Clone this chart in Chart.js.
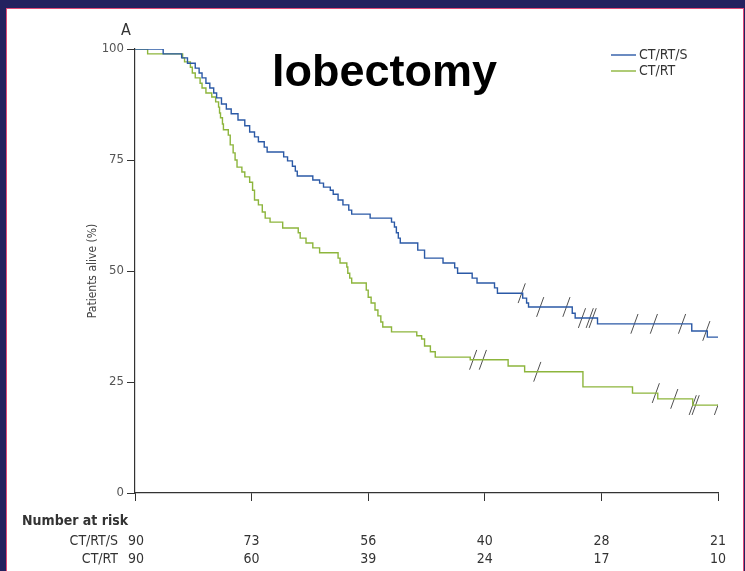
<!DOCTYPE html>
<html>
<head>
<meta charset="utf-8">
<script src="https://cdn.jsdelivr.net/npm/chart.js@4/dist/chart.umd.min.js"></script>
<style>
  html, body { margin: 0; padding: 0; }
  body { width: 745px; height: 571px; background: #24215f; position: relative; overflow: hidden; }
  #paper { position: absolute; left: 6px; top: 8px; width: 736px; height: 570px; background: #fff;
           border-left: 1px solid #e04a78; border-top: 1px solid #e04a78; border-right: 1px solid #e04a78; }
  #chart { position: absolute; left: 0; top: 0; }
</style>
</head>
<body>
<div id="paper"></div>
<canvas id="chart" width="745" height="571"></canvas>
<script>
// survival curves (months, % alive)
var surgTime = [0, 2.9, 4.8, 5.4, 6.2, 6.6, 6.9, 7.3, 7.7, 8.1, 8.4, 8.9, 9.4, 9.9, 10.6, 11.3, 11.8, 12.3, 12.7, 13.3, 13.6,
    15.3, 15.7, 16.2, 16.5, 16.7, 18.3, 19.0, 19.4, 20.1, 20.4, 20.9, 21.4, 22.0, 22.3, 24.2, 26.4, 26.7, 26.9, 27.1, 27.3,
    29.1, 29.8, 31.7, 32.9, 33.2, 34.7, 35.2, 37.0, 37.3, 39.9, 40.3, 40.5, 45.0, 45.3, 47.6, 57.3, 58.9, 60];
var surgPct = [100, 98.9, 98.0, 96.8, 95.7, 94.6, 93.5, 92.3, 91.2, 90.1, 89.0, 87.6, 86.5, 85.4, 84.0, 82.7, 81.3, 80.2, 79.1, 77.9, 76.8,
    75.7, 74.8, 73.6, 72.5, 71.4, 70.5, 69.8, 68.9, 68.2, 67.3, 66.0, 64.9, 63.7, 62.8, 61.9, 61.0, 59.9, 58.6, 57.4, 56.3,
    54.7, 52.9, 51.8, 50.7, 49.5, 48.4, 47.3, 46.2, 45.0, 43.9, 42.8, 41.9, 40.5, 39.4, 38.1, 36.5, 35.1, 35.1];

var rtTime = [0, 1.3, 4.9, 5.1, 5.7, 5.9, 6.2, 6.7, 6.9, 7.3, 7.9, 8.3, 8.6, 8.7, 8.8, 9.0, 9.1, 9.6, 9.8, 10.1, 10.3, 10.5,
    11.0, 11.3, 11.8, 12.1, 12.3, 12.7, 13.1, 13.4, 13.9, 15.2, 16.8, 17.0, 17.6, 18.3, 19.0, 20.9, 21.1, 21.8, 21.9, 22.1, 22.3,
    23.8, 24.0, 24.3, 24.7, 25.0, 25.3, 25.5, 26.4, 29.0, 29.5, 29.8, 30.4, 30.9, 34.5, 38.4, 40.1, 46.1, 51.2, 53.8, 57.4, 60];
var rtPct = [100, 98.9, 98.0, 97.1, 95.9, 94.6, 93.5, 92.3, 91.2, 90.1, 89.2, 88.1, 86.9, 85.6, 84.5, 83.1, 81.8, 80.6, 78.4, 76.6, 75.0, 73.4,
    72.3, 71.2, 70.0, 68.2, 66.0, 64.9, 63.3, 61.9, 61.0, 59.7, 58.6, 57.4, 56.3, 55.2, 54.1, 52.9, 51.8, 50.9, 49.5, 48.4, 47.3,
    45.7, 44.1, 42.8, 41.2, 39.9, 38.5, 37.4, 36.3, 35.4, 34.7, 33.1, 31.8, 30.6, 30.0, 28.6, 27.3, 23.9, 22.5, 21.2, 19.8, 19.8];

// censored patients
var surgCensTime = [39.8, 41.7, 44.4, 46.0, 46.8, 47.1, 51.4, 53.4, 56.3, 58.8];
var surgCensPct = [45.0, 41.9, 41.9, 39.4, 39.4, 39.4, 38.1, 38.1, 38.1, 36.5];
var rtCensTime = [34.8, 35.8, 41.4, 53.6, 55.5, 57.4, 57.7, 60];
var rtCensPct = [30.0, 30.0, 27.3, 22.5, 21.2, 19.8, 19.8, 19.8];

// number at risk table
var riskTimes = [0, 12, 24, 36, 48, 60];
var riskSurg = [90, 73, 56, 40, 28, 21];
var riskRT = [90, 60, 39, 24, 17, 10];
var yTicks = [0, 25, 50, 75, 100];

var blue = '#2b59a6';
var green = '#8db53c';
var txt = '#333';
var narrow = '"Liberation Sans Narrow", "DejaVu Sans Condensed", sans-serif';

function pts(xs, ys) {
    var out = [];
    for (var i = 0; i < xs.length; i++) out.push({x: xs[i], y: ys[i]});
    return out;
}

function censorSet(xs, ys) {
    return {
        data: pts(xs, ys),
        showLine: false,
        pointStyle: 'line',
        rotation: -70,
        pointRadius: 10.5,
        pointBorderWidth: 1,
        pointBorderColor: '#505050',
        pointBackgroundColor: '#505050'
    };
}

// title, legend and risk table
var extras = {
    id: 'extras',
    afterDraw: function(chart) {
        var ctx = chart.ctx;
        var xs = chart.scales.x;
        ctx.save();
        ctx.fillStyle = '#000';
        ctx.font = 'bold 45px "Liberation Sans", Arial, sans-serif';
        ctx.textBaseline = 'alphabetic';
        ctx.textAlign = 'left';
        ctx.fillText('lobectomy', 272, 86);

        ctx.fillStyle = txt;
        ctx.font = '16px ' + narrow;
        ctx.textAlign = 'center';
        ctx.textBaseline = 'middle';
        ctx.fillText('A', 126, 31);

        // legend
        ctx.lineWidth = 1.4;
        ctx.strokeStyle = blue;
        ctx.beginPath(); ctx.moveTo(611, 55); ctx.lineTo(636, 55); ctx.stroke();
        ctx.strokeStyle = green;
        ctx.beginPath(); ctx.moveTo(611, 71); ctx.lineTo(636, 71); ctx.stroke();
        ctx.font = '14px ' + narrow;
        ctx.textAlign = 'left';
        ctx.fillText('CT/RT/S', 639, 55);
        ctx.fillText('CT/RT', 639, 71);

        // number at risk
        ctx.font = 'bold 14px ' + narrow;
        ctx.fillText('Number at risk', 22, 521);
        ctx.font = '14px ' + narrow;
        ctx.textAlign = 'right';
        ctx.fillText('CT/RT/S', 118, 541);
        ctx.fillText('CT/RT', 118, 559);
        ctx.textAlign = 'center';
        for (var i = 0; i < riskTimes.length; i++) {
            var px = xs.getPixelForValue(riskTimes[i]);
            if (i == 0) px = 136;
            ctx.fillText(String(riskSurg[i]), px, 541);
            ctx.fillText(String(riskRT[i]), px, 559);
        }
        ctx.restore();
    }
};

new Chart(document.getElementById('chart'), {
    type: 'line',
    data: {
        datasets: [
            {label: 'CT/RT/S', data: pts(surgTime, surgPct), borderColor: blue, borderWidth: 1.4, pointRadius: 0, stepped: 'before'},
            {label: 'CT/RT', data: pts(rtTime, rtPct), borderColor: green, borderWidth: 1.4, pointRadius: 0, stepped: 'before'},
            censorSet(surgCensTime, surgCensPct),
            censorSet(rtCensTime, rtCensPct)
        ]
    },
    options: {
        responsive: false,
        animation: false,
        layout: {padding: {left: 0, right: 27, top: 49, bottom: 0}},
        plugins: {legend: {display: false}, tooltip: {enabled: false}},
        scales: {
            x: {
                type: 'linear', min: 0, max: 60,
                afterFit: function(s) { s.height = 78; },
                ticks: {display: false, stepSize: 12},
                grid: {drawOnChartArea: false, drawTicks: true, tickLength: 8, color: '#333'},
                border: {color: '#333', width: 1.2}
            },
            y: {
                min: 0, max: 100,
                afterFit: function(s) { s.width = 135; },
                afterBuildTicks: function(s) { s.ticks = yTicks.map(function(v) { return {value: v}; }); },
                ticks: {color: '#555', font: {size: 13, family: narrow}, padding: 3},
                grid: {drawOnChartArea: false, drawTicks: true, tickLength: 8, color: '#333'},
                border: {color: '#333', width: 1.2},
                title: {display: true, text: 'Patients alive (%)', color: '#444', font: {size: 12, family: narrow}, padding: {top: 86, bottom: 0}}
            }
        }
    },
    plugins: [extras]
});
</script>
</body>
</html>
